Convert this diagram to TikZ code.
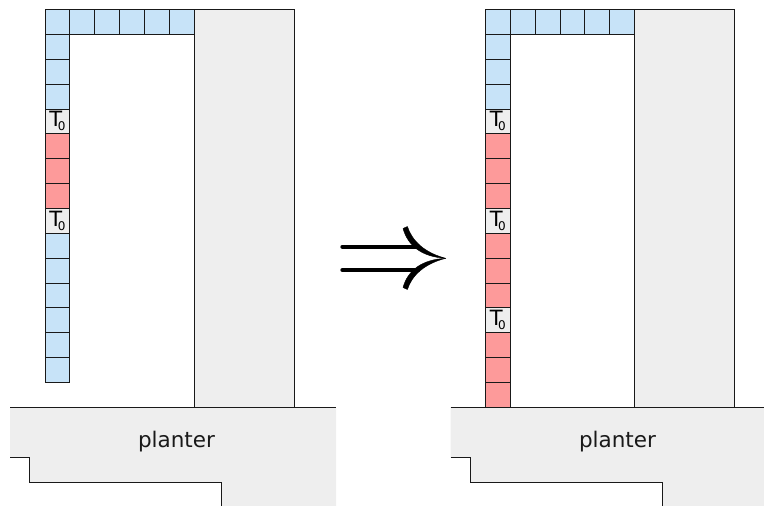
\documentclass[tikz,border=0pt]{standalone}
\usepackage{fontspec}
\setmainfont{DejaVu Sans}
\definecolor{cellblue}{HTML}{C7E3F8}
\definecolor{cellred}{HTML}{FD9A9A}
\definecolor{cellgray}{HTML}{EEEEEE}
\tikzset{
  line/.style={line width=0.9pt,draw=black!90},
  cellbox/.style={line,minimum width=24.87pt,minimum height=24.87pt,inner sep=0pt,outer sep=0pt,anchor=north west,font=\fontsize{21}{21}\selectfont},
  bluecell/.style={cellbox,fill=cellblue},
  redcell/.style={cellbox,fill=cellred},
  tcell/.style={cellbox,fill=cellgray},
  solid gray/.style={fill=cellgray,draw=none},
  label text/.style={font=\fontsize{21.5}{22}\selectfont,text=black!90,inner sep=0pt},
  arrowline/.style={line width=4.4pt,line cap=round,draw=black},
  barb/.style={fill=black,draw=black,line width=0.4pt,line join=round}
}
\newcommand{\Tzero}{\raisebox{1pt}{T}\kern-4.5pt\raisebox{-3pt}{\fontsize{12}{12}\selectfont 0}}
\begin{document}
\begin{tikzpicture}[x=1pt,y=-1pt]
\useasboundingbox (0,0) rectangle (764,506);
% left: wall and planter
\fill[solid gray] (194.5,9.5) rectangle (294,407.5);
\draw[line] (194.5,407.5) -- (194.5,9.5) -- (294,9.5) -- (294,407.5);
\fill[solid gray] (10,407.5) -- (336,407.5) -- (336,506) -- (221.5,506) -- (221.5,482) -- (29,482) -- (29,457) -- (10,457) -- cycle;
\draw[line] (10,407.5) -- (336,407.5);
\draw[line] (10,457) -- (29,457) -- (29,482) -- (221.5,482) -- (221.5,506);
\node[label text] (planterL) at (176.5,441.5) {planter};
% right: wall and planter
\fill[solid gray] (634.5,9.5) rectangle (734,407.5);
\draw[line] (634.5,407.5) -- (634.5,9.5) -- (734,9.5) -- (734,407.5);
\fill[solid gray] (450.5,407.5) -- (764,407.5) -- (764,506) -- (662.5,506) -- (662.5,482) -- (470,482) -- (470,457) -- (450.5,457) -- cycle;
\draw[line] (450.5,407.5) -- (764,407.5);
\draw[line] (450.5,457) -- (470,457) -- (470,482) -- (662.5,482) -- (662.5,506);
\node[label text] (planterR) at (617.5,441.5) {planter};
% top rows
\foreach \i in {1,...,5} {
  \node[bluecell] (LT\i) at ({45+24.87*\i},9.5) {};
  \node[bluecell] (RT\i) at ({485.4+24.87*\i},9.5) {};
}
% left column
\foreach \i/\s/\t in {0/bluecell/,1/bluecell/,2/bluecell/,3/bluecell/,4/tcell/\Tzero,5/redcell/,6/redcell/,7/redcell/,8/tcell/\Tzero,9/bluecell/,10/bluecell/,11/bluecell/,12/bluecell/,13/bluecell/,14/bluecell/}
  \node[\s] (LC\i) at (45,{9.5+24.87*\i}) {\t};
% right column
\foreach \i/\s/\t in {0/bluecell/,1/bluecell/,2/bluecell/,3/bluecell/,4/tcell/\Tzero,5/redcell/,6/redcell/,7/redcell/,8/tcell/\Tzero,9/redcell/,10/redcell/,11/redcell/,12/tcell/\Tzero,13/redcell/,14/redcell/,15/redcell/}
  \node[\s] (RC\i) at (485.4,{9.5+24.87*\i}) {\t};
% implication arrow
\draw[arrowline] (342.5,246.7) -- (418,246.7);
\draw[arrowline] (342.5,270) -- (418,270);
\fill[barb] (445.8,258.3) .. controls (425,253) and (412,241) .. (407.4,226.5)
  -- (403,228.5) .. controls (408,246) and (422,257) .. (445.8,258.3) -- cycle;
\fill[barb] (445.8,258.3) .. controls (425,263.5) and (412,275) .. (407.4,289.5)
  -- (403,287.5) .. controls (408,270) and (422,259.5) .. (445.8,258.3) -- cycle;
\end{tikzpicture}
\end{document}
